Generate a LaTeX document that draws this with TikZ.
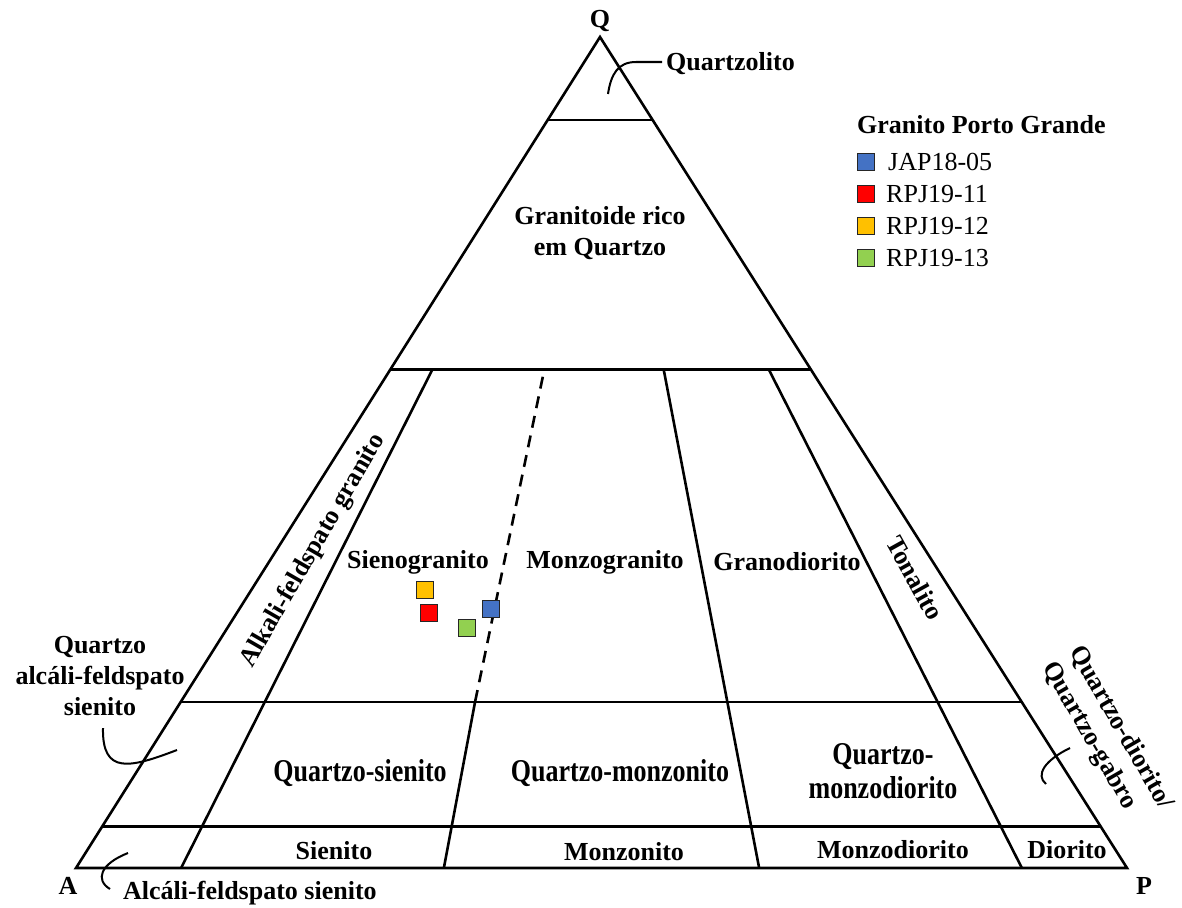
\documentclass[tikz,border=0pt]{standalone}
\usepackage{fontspec}
\setmainfont{Liberation Serif}
\usetikzlibrary{calc}
\definecolor{cblue}{HTML}{4472C4}
\definecolor{cred}{HTML}{FF0000}
\definecolor{cyellow}{HTML}{FFC000}
\definecolor{cgreen}{HTML}{92D050}
\begin{document}
\begin{tikzpicture}[x=1pt,y=-1pt,
  edge/.style={line width=2.6pt, line join=miter},
  leader/.style={line width=2pt},
  lbl/.style={font=\fontsize{26}{31}\selectfont\bfseries, inner sep=0pt, align=center},
  tall/.style={lbl, yscale=1.22},
  leg/.style={font=\fontsize{26}{31}\selectfont, inner sep=0pt, anchor=west},
  sq/.style={draw=black!85, line width=1.3pt, minimum size=16.5pt, inner sep=0pt},
]
\fill[white] (0,0) rectangle (1182,907);
\useasboundingbox (0,0) rectangle (1182,907);

% vertices
\coordinate (A) at (76,868);
\coordinate (P) at (1127,868);
\coordinate (Q) at (600,37);

% outer triangle
\draw[edge] (A) -- (P) -- (Q) -- cycle;

% horizontal lines (constant Q)
\foreach \q/\nm in {0.9/h90, 0.6/h60, 0.2/h20, 0.05/h05}{
  \coordinate (\nm l) at ($(A)!\q!(Q)$);
  \coordinate (\nm r) at ($(P)!\q!(Q)$);
  \draw[edge] (\nm l) -- (\nm r);
}

% radial lines (constant P/(A+P))
\foreach \r/\nm in {0.1/r10, 0.35/r35, 0.65/r65, 0.9/r90}{
  \coordinate (\nm b) at ($(A)!\r!(P)$);
}
\coordinate (r10t) at ($(r10b)!0.6!(Q)$);
\coordinate (r35t) at ($(r35b)!0.2!(Q)$);
\coordinate (r65t) at ($(r65b)!0.6!(Q)$);
\coordinate (r90t) at ($(r90b)!0.6!(Q)$);
\draw[edge] (r10b) -- (r10t);
\draw[edge] (r35b) -- (r35t);
\draw[edge] (r65b) -- (r65t);
\draw[edge] (r90b) -- (r90t);
\coordinate (dtop) at (544,371);
\draw[line width=2.6pt, dash pattern=on 12pt off 8pt] (r35t) -- (dtop);

% labels
\node[lbl] (lQ) at (600,21) {Q};
\node[lbl] (lA) at (68,886) {A};
\node[lbl] (lP) at (1144,886) {P};

\node[lbl, anchor=west] (quartzolito) at (666,64) {Quartzolito};
\node[lbl] (granrico) at (600,233) {Granitoide rico\\em Quartzo};

\node[lbl, rotate=60] (alkgran) at (313,551) {Alkali-feldspato granito};
\node[lbl] (sieno) at (418,562) {Sienogranito};
\node[lbl] (monzo) at (605,562) {Monzogranito};
\node[lbl] (grano) at (787,562) {Granodiorito};
\node[lbl, rotate=-61] (tonal) at (915,578) {Tonalito};

\node[lbl] (qalk) at (100,676) {Quartzo\\alcáli-feldspato\\sienito};
\node[tall] (qsie) at (360,773) {Quartzo-sienito};
\node[tall] (qmon) at (620,773) {Quartzo-monzonito};
\node[tall, font=\fontsize{26}{28}\selectfont\bfseries] (qmzd) at (883,771) {Quartzo-\\monzodiorito};
\node[lbl, rotate=-60, align=left] (qdio) at (1107,736) {Quartzo-diorito/\\Quartzo-gabro};

\node[lbl] (sien) at (334,851) {Sienito};
\node[lbl] (monz) at (624,852) {Monzonito};
\node[lbl] (mzdi) at (893,850) {Monzodiorito};
\node[lbl] (dior) at (1067,850) {Diorito};
\node[lbl, anchor=west] (afs) at (123,893) {Alcáli-feldspato sienito};

% leader curves
\coordinate (L1a) at (608,94);
\coordinate (L1b) at (662,62);
\draw[leader] (L1a) .. controls (611,74) and (618,62) .. (636,62) -- (L1b);
\coordinate (L2a) at (103,728);
\coordinate (L2b) at (177,750);
\draw[leader] (L2a) .. controls (102,775) and (130,768) .. (L2b);
\coordinate (L3a) at (128,853);
\coordinate (L3b) at (110,889);
\draw[leader] (L3a) .. controls (100,864) and (95,880) .. (L3b);
\coordinate (L4a) at (1070,748);
\coordinate (L4b) at (1046,784);
\draw[leader] (L4a) .. controls (1045,760) and (1035,775) .. (L4b);

% legend
\node[lbl, anchor=west] (legtitle) at (857,125) {Granito Porto Grande};
\node[sq, fill=cblue] (s1) at (866,162) {};
\node[sq, fill=cred] (s2) at (866,194) {};
\node[sq, fill=cyellow] (s3) at (866,226) {};
\node[sq, fill=cgreen] (s4) at (866,258) {};
\node[leg] (t1) at (888,162) {JAP18-05};
\node[leg] (t2) at (886,194) {RPJ19-11};
\node[leg] (t3) at (886,226) {RPJ19-12};
\node[leg] (t4) at (886,258) {RPJ19-13};

% data points
\node[sq, fill=cyellow] (p3) at (425,590) {};
\node[sq, fill=cred] (p2) at (429,613) {};
\node[sq, fill=cgreen] (p4) at (467,628) {};
\node[sq, fill=cblue] (p1) at (491,609) {};
\end{tikzpicture}
\end{document}
